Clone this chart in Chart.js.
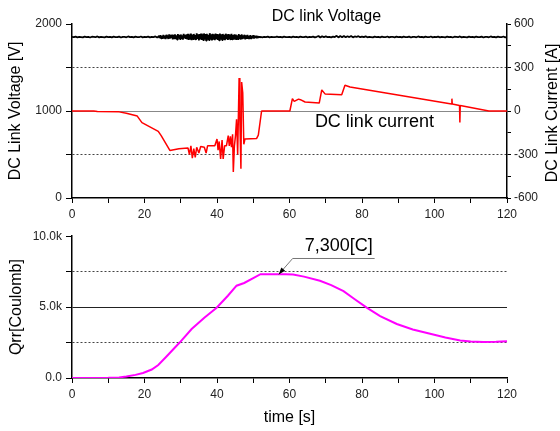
<!DOCTYPE html>
<html>
<head>
<meta charset="utf-8">
<script src="https://cdn.jsdelivr.net/npm/chart.js"></script>
<style>
  body { margin: 0; background: #fff; }
  #wrap { position: relative; width: 560px; height: 431px; }
  canvas { position: absolute; left: 0; }
  #top { top: 0; }
  #bottom { top: 225px; }
</style>
</head>
<body>
<div id="wrap">
  <canvas id="top" width="560" height="225"></canvas>
  <canvas id="bottom" width="560" height="206"></canvas>
</div>
<script>
// DC link voltage [V]
// quiet part before the switching burst, every 0.5 s from 0 to 23.5 s
const voltPre = [
  1852,1848,1855,1847,1853,1850,1846,1856,1849,1852,1845,1854,1851,1848,1857,1846,1853,1850,1847,1855,
  1849,1853,1846,1856,1850,1848,1855,1845,1852,1851,1847,1857,1849,1853,1846,1854,1850,1848,1856,1847,
  1853,1849,1855,1846,1852,1850,1857,1844
];
// noisy burst, every 0.2 s from 24 to 52 s
const voltBurst = [
  1862,1838,1870,1834,1866,1830,1874,1840,1868,1826,1876,1836,1864,1828,1880,1832,1870,1838,1878,1824,
  1872,1834,1882,1828,1868,1822,1884,1836,1874,1826,1880,1830,1870,1820,1886,1834,1876,1828,1882,1824,
  1888,1818,1876,1830,1890,1814,1878,1826,1886,1820,1872,1816,1892,1828,1880,1812,1884,1822,1890,1818,
  1880,1814,1892,1826,1884,1810,1888,1820,1876,1816,1894,1824,1882,1812,1888,1820,1880,1814,1890,1826,
  1884,1818,1878,1812,1890,1824,1882,1816,1886,1820,1876,1814,1888,1826,1880,1818,1884,1822,1878,1816,
  1886,1824,1874,1820,1882,1828,1878,1818,1870,1826,1884,1830,1872,1822,1880,1828,1868,1832,1876,1824,
  1870,1830,1874,1836,1866,1828,1872,1834,1864,1838,1870,1832,1862,1840,1866,1836,1860,1842,1858,1844,
  1852
];
// quiet part after the burst, every 0.5 s from 52.5 to 120 s
const voltPost = [
  1847,1853,1849,1855,1846,1852,1850,1848,1856,1849,1853,1846,1855,1850,1848,
  1853,1847,1855,1849,1851,1846,1856,1850,1848,1854,1847,1852,1850,1855,1846,1853,1862,1845,1860,1848,
  1858,1849,1853,1847,1855,1850,1864,1846,1861,1848,1863,1847,1859,1850,1862,1846,1857,1851,1860,1848,
  1855,1849,1858,1847,1853,1850,1846,1855,1849,1852,1847,1854,1850,1848,1856,1846,1853,1851,1847,1855,
  1849,1853,1846,1856,1850,1848,1855,1845,1852,1851,1847,1857,1849,1853,1846,1854,1850,1848,1856,1847,
  1852,1848,1855,1847,1853,1850,1846,1856,1849,1852,1845,1854,1851,1848,1857,1846,1853,1850,1847,1855,
  1849,1853,1846,1856,1850,1848,1855,1845,1852,1851,1847,1857,1849,1853,1846,1854,1850,1848,1856,1847,
  1851
];

// DC link current [A]
const curTime = [0, 6, 7, 13, 15, 18, 19.3, 23.8, 24.6, 27, 29.5, 32, 32.4, 32.8, 33.2, 33.6, 34, 34.4, 35, 35.5,
  36.5, 37, 37.4, 39.4, 40, 40.3, 40.6, 41, 41.4, 41.7, 42.1, 42.6, 43.1, 43.4, 43.7, 44, 44.3, 44.5, 44.8, 45.1,
  45.4, 45.7, 46.1, 46.3, 46.6, 46.8, 47.1, 47.4, 47.7, 50.9, 51.4, 52.3, 60.1, 60.8, 61.3, 62.5, 63, 64.3, 68.2, 68.9,
  69.8, 74.4, 75.3, 76.7, 104.7, 104.8, 104.9, 106.9, 107.0, 107.1, 115, 120];
const current = [0, 0, -4, -6, -15, -35, -80, -140, -170, -272, -260, -255, -300, -240, -325, -260, -320, -250, -290, -245,
  -250, -290, -240, -239, -193, -270, -210, -330, -200, -330, -240, -240, -170, -240, -175, -250, -160, -420, -240, -170,
  -57, -300, 228, -50, -398, 200, 125, -230, -193, -190, -166, 0, 0, 85, 66, 82, 78, 62, 55, 145,
  118, 112, 178, 166, 48, 85, 48, 38, -79, 38, 0, 0];

// Qrr [C]
const qrrTime = [0, 5, 10, 13, 15, 17.5, 19.6, 22, 23.8, 26, 29.7, 33, 36.5, 39.9, 43, 45.4, 47.5, 50, 52, 55,
  59, 61, 64, 68.4, 71.5, 74.9, 78, 81.3, 85, 89.6, 94, 98.8, 103, 107.1, 110, 113.5, 117, 120];
const qrr = [0, 5, 15, 40, 110, 220, 350, 600, 920, 1500, 2500, 3450, 4250, 4960, 5800, 6510, 6700, 7050, 7320, 7320,
  7320, 7300, 7150, 6860, 6550, 6120, 5550, 4960, 4370, 3810, 3420, 3120, 2850, 2650, 2580, 2540, 2550, 2600];

const FONT = 'Arial, "Liberation Sans", sans-serif';
Chart.defaults.font.family = FONT;
Chart.defaults.font.size = 12;
Chart.defaults.color = '#222';

const pairs = (xs, ys) => ys.map((y, i) => ({ x: xs[i], y: y }));
const voltPts = [].concat(
  voltPre.map((v, i) => ({ x: i * 0.5, y: v })),
  voltBurst.map((v, i) => ({ x: 24 + i * 0.2, y: v })),
  voltPost.map((v, i) => ({ x: 52.5 + i * 0.5, y: v }))
);

// text labels, the leader arrow and a bottom-to-top right axis title
const notes = {
  id: 'notes',
  afterDatasetsDraw(chart, args, opts) {
    const c = chart.ctx;
    (opts.items || []).forEach(n => {
      const px = chart.scales.x.getPixelForValue(n.x);
      const py = chart.scales[n.axis].getPixelForValue(n.y);
      c.save();
      if (n.leader) {
        const [ex, ey] = n.leader.elbow;
        const [fx, fy] = n.leader.end;
        c.strokeStyle = '#777';
        c.lineWidth = 1;
        c.beginPath();
        c.moveTo(px, py);
        c.lineTo(px + ex, py + ey);
        c.lineTo(px + fx, py + fy);
        c.stroke();
        const len = Math.hypot(ex, ey);
        const ux = -ex / len, uy = -ey / len;
        c.fillStyle = '#000';
        c.beginPath();
        c.moveTo(px, py);
        c.lineTo(px - ux * 7 - uy * 2.5, py - uy * 7 + ux * 2.5);
        c.lineTo(px - ux * 7 + uy * 2.5, py - uy * 7 - ux * 2.5);
        c.closePath();
        c.fill();
      }
      c.font = n.font;
      c.fillStyle = '#000';
      c.textAlign = n.align || 'left';
      c.textBaseline = 'middle';
      c.fillText(n.text, px + (n.dx || 0), py + (n.dy || 0));
      c.restore();
    });
    if (opts.sideTitle) {
      const a = chart.chartArea;
      c.save();
      c.translate(chart.width - 7, (a.top + a.bottom) / 2 + 2);
      c.rotate(-Math.PI / 2);
      c.font = '16px ' + FONT;
      c.fillStyle = '#000';
      c.textAlign = 'center';
      c.textBaseline = 'middle';
      c.fillText(opts.sideTitle, 0, 0);
      c.restore();
    }
  }
};

const clear = 'rgba(0,0,0,0)';
const tv = ctx => (ctx.tick ? ctx.tick.value : null);

function xAxis(h, title) {
  return {
    type: 'linear', min: 0, max: 120,
    afterFit: s => { s.height = h; },
    ticks: { stepSize: 10, autoSkip: false, maxRotation: 0, padding: 4,
      callback: v => (v % 20 === 0 ? v : '') },
    grid: { color: clear, tickColor: '#000', tickLength: 5 },
    border: { color: '#000', width: 1.5 },
    title: title
  };
}

new Chart(document.getElementById('top'), {
  type: 'line',
  data: {
    datasets: [
      { data: voltPts, yAxisID: 'yV', borderColor: '#000', borderWidth: 1.8, borderJoinStyle: 'bevel', pointRadius: 0 },
      { data: pairs(curTime, current), yAxisID: 'yI', borderColor: '#ff0000', borderWidth: 1.5, borderJoinStyle: 'bevel', pointRadius: 0 }
    ]
  },
  options: {
    responsive: false,
    animation: false,
    layout: { padding: { top: 24, left: 0, right: 0, bottom: 0 } },
    plugins: {
      legend: { display: false },
      tooltip: { enabled: false },
      notes: {
        sideTitle: 'DC Link Current [A]',
        items: [
          { x: 70.2, y: 2086, axis: 'yV', text: 'DC link Voltage', font: '16px ' + FONT, align: 'center' },
          { x: 67, y: -74, axis: 'yI', text: 'DC link current', font: '18px ' + FONT }
        ]
      }
    },
    scales: {
      x: xAxis(27),
      yV: {
        position: 'left', min: 0, max: 2000,
        afterFit: s => { s.width = 72; },
        ticks: { stepSize: 500, padding: 4, callback: v => (v % 1000 === 0 ? v : '') },
        grid: {
          color: ctx => tv(ctx) === 1000 ? '#888' : (tv(ctx) === 500 || tv(ctx) === 1500 ? '#444' : clear),
          tickColor: '#000', tickLength: 6
        },
        border: { color: '#000', width: 1.5,
          dash: ctx => (tv(ctx) === 500 || tv(ctx) === 1500 ? [2, 2] : []) },
        title: { display: true, text: 'DC Link Voltage [V]', color: '#000',
          font: { size: 16, lineHeight: 1 }, padding: { top: 8, bottom: 0 } }
      },
      yI: {
        position: 'right', min: -600, max: 600,
        afterFit: s => { s.width = 53; },
        ticks: { stepSize: 150, padding: 3, callback: v => (v % 300 === 0 ? v : '') },
        grid: { drawOnChartArea: false, tickColor: '#000', tickLength: 4 },
        border: { color: '#000', width: 1.5 }
      }
    }
  },
  plugins: [notes]
});

new Chart(document.getElementById('bottom'), {
  type: 'line',
  data: {
    datasets: [
      { data: pairs(qrrTime, qrr), yAxisID: 'yQ', borderColor: '#ff00ff', borderWidth: 2, pointRadius: 0 }
    ]
  },
  options: {
    responsive: false,
    animation: false,
    layout: { padding: { top: 9, left: 0, right: 53, bottom: 0 } },
    plugins: {
      legend: { display: false },
      tooltip: { enabled: false },
      notes: { items: [
        { x: 57, y: 7300, axis: 'yQ', text: '7,300[C]', font: '18px ' + FONT,
          dx: 26, dy: -28, leader: { elbow: [14, -16], end: [96, -16] } }
      ] }
    },
    scales: {
      x: xAxis(53, { display: true, text: 'time [s]', color: '#000',
        font: { size: 16, lineHeight: 1 }, padding: { top: 0, bottom: 5 } }),
      yQ: {
        position: 'left', min: 0, max: 10000,
        afterFit: s => { s.width = 72; },
        ticks: { stepSize: 2500, padding: 4,
          callback: v => (v === 0 ? '0.0' : (v % 5000 === 0 ? (v / 1000).toFixed(1) + 'k' : '')) },
        grid: {
          color: ctx => tv(ctx) === 5000 ? '#222' : (tv(ctx) === 2500 || tv(ctx) === 7500 ? '#444' : clear),
          tickColor: '#000', tickLength: 6
        },
        border: { color: '#000', width: 1.5,
          dash: ctx => (tv(ctx) === 2500 || tv(ctx) === 7500 ? [2, 2] : []) },
        title: { display: true, text: 'Qrr[Coulomb]', color: '#000',
          font: { size: 16, lineHeight: 1 }, padding: { top: 9, bottom: 0 } }
      }
    }
  },
  plugins: [notes]
});
</script>
</body>
</html>
